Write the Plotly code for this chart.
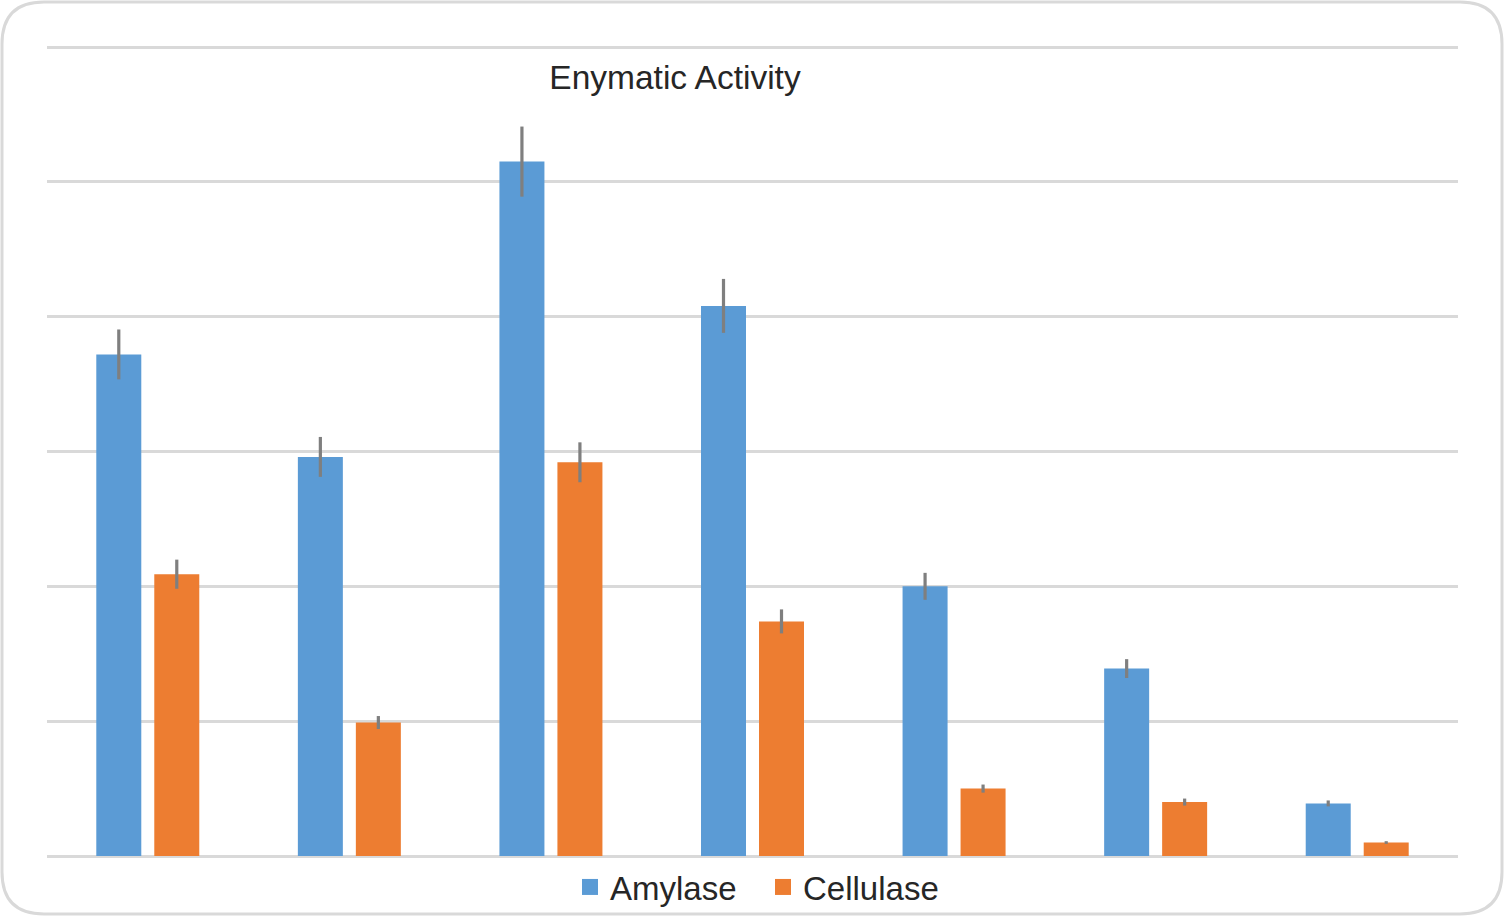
import plotly.graph_objects as go

categories = ["S1", "S2", "S3", "S4", "S5", "S6", "S7"]
amylase = [37.2, 29.6, 51.5, 40.8, 20.0, 13.9, 3.9]
amylase_err = [1.85, 1.48, 2.6, 2.0, 1.0, 0.7, 0.22]
cellulase = [20.9, 9.9, 29.2, 17.4, 5.0, 4.0, 1.0]
cellulase_err = [1.08, 0.48, 1.48, 0.89, 0.3, 0.26, 0.1]

series_names = ["Amylase", "Cellulase"]
series_colors = ["#5B9BD5", "#ED7D31"]

W, H = 1505, 917
L, R, T, B = 47, 47, 45, 61
PW, PH = W - L - R, H - T - B

fig = go.Figure()
for name, vals, errs, col in [
    (series_names[0], amylase, amylase_err, series_colors[0]),
    (series_names[1], cellulase, cellulase_err, series_colors[1]),
]:
    fig.add_trace(go.Bar(
        x=categories, y=vals, name=name, marker_color=col,
        marker_line_width=0, showlegend=False,
        error_y=dict(type="data", array=errs, visible=True,
                     color="#7F7F7F", thickness=3.2, width=0)))

# legend entries with larger square symbols, one legend per series
for name, col, lg in zip(series_names, series_colors, ["legend", "legend2"]):
    fig.add_trace(go.Scatter(
        x=[categories[0]], y=[None], mode="markers", name=name,
        marker=dict(symbol="square", size=16, color=col),
        showlegend=True, legend=lg))

# rounded border (paper coords relative to plot area)
def px(xp):
    return (xp - L) / PW

def py(yp):
    return (H - B - yp) / PH

r = 42
x0, x1, y0, y1 = 2, W - 3, 2, H - 3
path = (f"M {px(x0+r)},{py(y0)} L {px(x1-r)},{py(y0)} "
        f"Q {px(x1)},{py(y0)} {px(x1)},{py(y0+r)} "
        f"L {px(x1)},{py(y1-r)} Q {px(x1)},{py(y1)} {px(x1-r)},{py(y1)} "
        f"L {px(x0+r)},{py(y1)} Q {px(x0)},{py(y1)} {px(x0)},{py(y1-r)} "
        f"L {px(x0)},{py(y0+r)} Q {px(x0)},{py(y0)} {px(x0+r)},{py(y0)} Z")
fig.add_shape(type="path", path=path, xref="paper", yref="paper",
              line=dict(color="#D9D9D9", width=3), layer="below")

ytop = 60 + (47 - T) * 60 / (856 - 47)

legend_common = dict(
    orientation="h", xref="container", yref="container",
    xanchor="left", y=1 - 887 / H, yanchor="middle",
    font=dict(size=33, color="#262626"), itemwidth=30,
    bgcolor="rgba(0,0,0,0)", borderwidth=0,
)

fig.update_layout(
    width=W, height=H,
    margin=dict(l=L, r=R, t=T, b=B, autoexpand=False),
    paper_bgcolor="white", plot_bgcolor="white",
    barmode="group", bargap=0.4246, bargroupgap=0.224,
    font=dict(family="Liberation Sans, Arial, sans-serif", color="#262626"),
    title=dict(text="Enymatic Activity", x=675 / W, xanchor="center",
               y=1 - 77 / H, yanchor="middle",
               font=dict(size=33.5, color="#262626")),
    showlegend=True,
    legend=dict(x=570 / W, **legend_common),
    legend2=dict(x=763 / W, **legend_common),
    xaxis=dict(showticklabels=False, showgrid=False, zeroline=False,
               showline=False, ticks=""),
    yaxis=dict(range=[0, ytop], dtick=10, showticklabels=False,
               showgrid=True, gridcolor="#D9D9D9", gridwidth=3,
               zeroline=True, zerolinecolor="#D9D9D9", zerolinewidth=3,
               ticks=""),
)

fig.write_html(
    "out.html",
    config={"displayModeBar": False},
    post_script="document.body.style.margin='0';document.body.style.overflow='hidden';",
)
